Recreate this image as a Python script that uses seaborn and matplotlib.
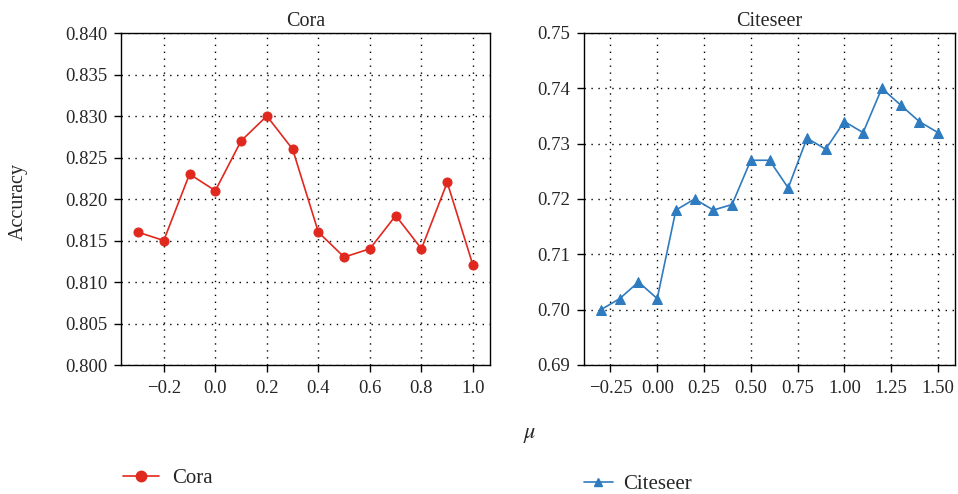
import numpy as np
import pandas as pd
import matplotlib
matplotlib.use("Agg")
import matplotlib.pyplot as plt
import seaborn as sns
from matplotlib.lines import Line2D

sns.set_style("white")
plt.rcParams['font.family'] = ['Liberation Serif', 'DejaVu Serif']
plt.rcParams['mathtext.fontset'] = 'stix'

cora_mu = [-0.3, -0.2, -0.1, 0.0, 0.1, 0.2, 0.3, 0.4, 0.5, 0.6, 0.7, 0.8, 0.9, 1.0]
cora_acc = [0.816, 0.815, 0.823, 0.821, 0.827, 0.830, 0.826, 0.816, 0.813, 0.814, 0.818, 0.814, 0.822, 0.812]
cite_mu = [-0.3, -0.2, -0.1, 0.0, 0.1, 0.2, 0.3, 0.4, 0.5, 0.6, 0.7, 0.8, 0.9, 1.0, 1.1, 1.2, 1.3, 1.4, 1.5]
cite_acc = [0.700, 0.702, 0.705, 0.702, 0.718, 0.720, 0.718, 0.719, 0.727, 0.727, 0.722, 0.731,
            0.729, 0.734, 0.732, 0.740, 0.737, 0.734, 0.732]
cora_yticks = [0.800, 0.805, 0.810, 0.815, 0.820, 0.825, 0.830, 0.835, 0.840]
cora_xticks = [-0.2, 0.0, 0.2, 0.4, 0.6, 0.8, 1.0]
cite_yticks = [0.69, 0.70, 0.71, 0.72, 0.73, 0.74, 0.75]
cite_xticks = [-0.25, 0.00, 0.25, 0.50, 0.75, 1.00, 1.25, 1.50]

red = '#e0281e'
blue = '#2e7bbf'

fig = plt.figure(figsize=(9.58, 4.94), dpi=100)
ax1 = fig.add_axes([121/958, 1 - 365/494, (490-121)/958, (365-33)/494])
ax2 = fig.add_axes([584/958, 1 - 365/494, (955-584)/958, (365-33)/494])

df1 = pd.DataFrame({'mu': cora_mu, 'acc': cora_acc})
df2 = pd.DataFrame({'mu': cite_mu, 'acc': cite_acc})
sns.lineplot(data=df1, x='mu', y='acc', ax=ax1, color=red, marker='o', markersize=6.5,
             markeredgecolor=red, linewidth=1.2)
sns.lineplot(data=df2, x='mu', y='acc', ax=ax2, color=blue, marker='^', markersize=7,
             markeredgecolor=blue, linewidth=1.2)

for ax, yt, xt, yfmt, xfmt, title in [
        (ax1, cora_yticks, cora_xticks, '{:.3f}', '{:.1f}', 'Cora'),
        (ax2, cite_yticks, cite_xticks, '{:.2f}', '{:.2f}', 'Citeseer')]:
    ax.set_yticks(yt)
    ax.set_yticklabels([yfmt.format(v) for v in yt])
    ax.set_xticks(xt)
    ax.set_xticklabels([xfmt.format(v).replace('-', '\u2212') for v in xt])
    ax.set_ylim(yt[0], yt[-1])
    ax.set_xlabel('')
    ax.set_ylabel('')
    ax.set_title(title, fontsize=14.5, pad=5)
    ax.grid(True, linestyle=(0, (1, 4)), color='black', linewidth=1.0)
    for s in ax.spines.values():
        s.set_visible(True)
        s.set_color('black')
        s.set_linewidth(1.0)
    ax.tick_params(axis='both', labelsize=13.5, length=5, width=1.0, direction='out',
                   left=True, bottom=True, color='black')
    ax.tick_params(axis='x', pad=6)
    ax.tick_params(axis='y', pad=5)

ax1.set_xlim(-0.366, 1.066)
ax2.set_xlim(-0.391, 1.591)

fig.text(18/958, 1 - 202/494, 'Accuracy', rotation=90, ha='center', va='center', fontsize=14.5)
fig.text(530/958, 1 - 435/494, r'$\mu$', ha='center', va='center', fontsize=16)

h1 = Line2D([], [], color=red, marker='o', markersize=7.5, linewidth=1.2)
h2 = Line2D([], [], color=blue, marker='^', markersize=6, linewidth=1.2)
fig.legend([h1], ['Cora'], loc='center left', bbox_to_anchor=(104/958, 1 - 478/494),
           frameon=False, fontsize=15, handlelength=1.75, handletextpad=0.6)
fig.legend([h2], ['Citeseer'], loc='center left', bbox_to_anchor=(565/958, 1 - 484/494),
           frameon=False, fontsize=15, handlelength=1.4, handletextpad=0.5)

fig.savefig('out.png', dpi=100)
